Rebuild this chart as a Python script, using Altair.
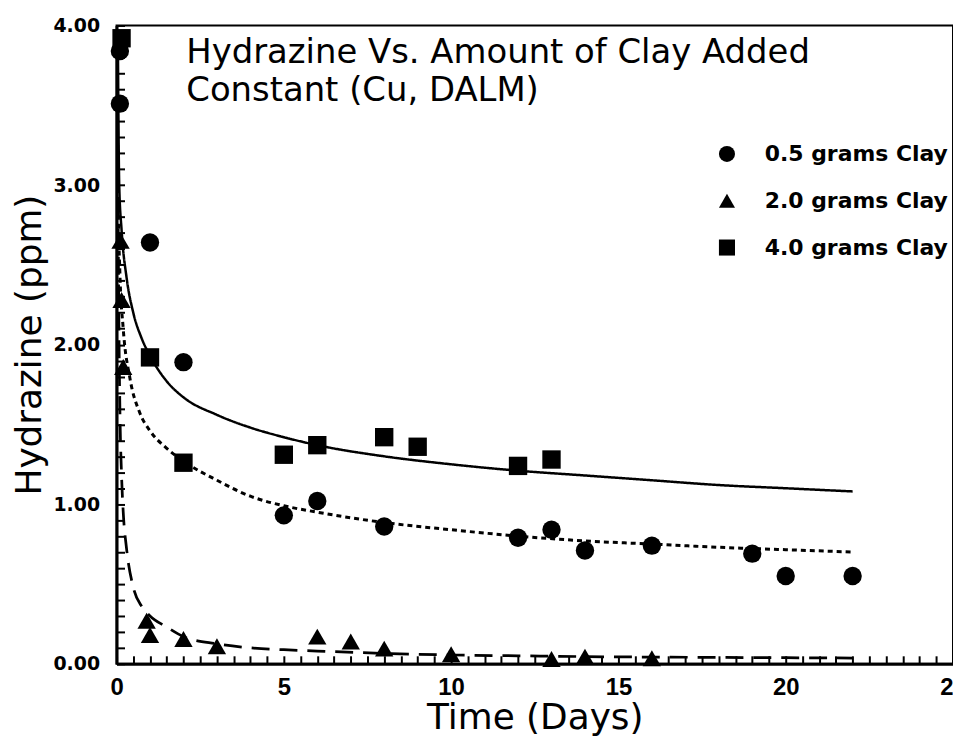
import altair as alt
import pandas as pd

# ---------------- data ----------------
SERIES = ["0.5 grams Clay", "2.0 grams Clay", "4.0 grams Clay"]
SHAPES = ["circle", "triangle-up", "square"]

# measured points
T_05 = [0.1, 0.1, 1, 2, 5, 6, 8, 12, 13, 14, 16, 19, 20, 22]
Y_05 = [3.84, 3.51, 2.64, 1.89, 0.93, 1.02, 0.86, 0.79, 0.84, 0.71, 0.74, 0.69, 0.55, 0.55]

T_20 = [0.12, 0.15, 0.2, 0.9, 1, 2, 3, 6, 7, 8, 10, 13, 14, 16]
Y_20 = [2.65, 2.28, 1.86, 0.27, 0.18, 0.155, 0.11, 0.17, 0.14, 0.095, 0.06, 0.03, 0.045, 0.035]

T_40 = [0.15, 1, 2, 5, 6, 8, 9, 12, 13]
Y_40 = [3.92, 1.92, 1.26, 1.31, 1.37, 1.42, 1.36, 1.24, 1.28]

# fitted curves
FIT_05_T = [0.02, 0.04, 0.1, 0.2, 0.4, 0.7, 1, 1.5, 2, 3, 4, 5, 6, 8, 10, 12, 14, 16, 18, 20, 22]
FIT_05_Y = [3.6, 3.0, 2.45, 2.10, 1.79, 1.57, 1.46, 1.35, 1.27, 1.15, 1.05, 0.99, 0.95, 0.885, 0.84, 0.80, 0.77, 0.75, 0.73, 0.715, 0.70]

FIT_20_T = [0.03, 0.06, 0.1, 0.15, 0.2, 0.3, 0.5, 0.75, 1, 1.5, 2, 3, 4, 5, 6, 8, 10, 12, 14, 16, 18, 20, 22]
FIT_20_Y = [3.6, 2.4, 1.6, 1.18, 0.95, 0.72, 0.48, 0.36, 0.30, 0.23, 0.17, 0.125, 0.10, 0.088, 0.08, 0.065, 0.055, 0.05, 0.045, 0.042, 0.04, 0.038, 0.036]

FIT_40_T = [0.04, 0.08, 0.15, 0.3, 0.5, 0.75, 1, 1.5, 2, 3, 4, 5, 6, 8, 10, 12, 14, 16, 18, 20, 22]
FIT_40_Y = [3.9, 3.0, 2.72, 2.42, 2.2, 2.04, 1.93, 1.77, 1.67, 1.56, 1.48, 1.42, 1.37, 1.30, 1.25, 1.21, 1.18, 1.15, 1.12, 1.10, 1.08]

TITLE_LINES = ["Hydrazine Vs. Amount of Clay Added", "Constant (Cu, DALM)"]
X_TITLE = "Time (Days)"
Y_TITLE = "Hydrazine (ppm)"
X_LABEL_VALUES = [0, 5, 10, 15, 20, 25]
Y_LABEL_VALUES = [0, 1, 2, 3, 4]
X_MINOR_TICKS = [i * 0.5 for i in range(51)]
Y_MINOR_TICKS = [round(i * 0.1, 1) for i in range(41)]

# ---------------- tables ----------------
pts_rows = []
for s, ts, ys in [(SERIES[0], T_05, Y_05), (SERIES[1], T_20, Y_20), (SERIES[2], T_40, Y_40)]:
    for t, y in zip(ts, ys):
        pts_rows.append({"series": s, "t": t, "y": y})
pts = pd.DataFrame(pts_rows)

fit_rows = []
for s, ts, ys in [(SERIES[0], FIT_05_T, FIT_05_Y), (SERIES[1], FIT_20_T, FIT_20_Y), (SERIES[2], FIT_40_T, FIT_40_Y)]:
    for t, y in zip(ts, ys):
        fit_rows.append({"curve": s, "t": t, "y": y})
fits = pd.DataFrame(fit_rows)

x_scale = alt.Scale(domain=[0, 25], nice=False, zero=False)
y_scale = alt.Scale(domain=[0, 4], nice=False)

# tick-only axes (drawn inward by negative offset)
tick_x_axis = alt.Axis(orient="bottom", offset=-8, values=X_MINOR_TICKS, domain=False, labels=False,
                       ticks=True, tickSize=8, tickWidth=2, tickColor="black", grid=False, title=None)
tick_y_axis = alt.Axis(orient="left", offset=-8, values=Y_MINOR_TICKS, domain=False, labels=False,
                       ticks=True, tickSize=8, tickWidth=2, tickColor="black", grid=False, title=None)

label_x_axis = alt.Axis(orient="bottom", values=X_LABEL_VALUES, format="d", ticks=False, tickSize=0,
                        domain=True, domainColor="black", domainWidth=3, grid=False,
                        labelFont="Liberation Sans", labelFontWeight="bold", labelFontSize=24,
                        labelColor="black", labelPadding=12, labelFlush=False, labelOverlap=False,
                        title=X_TITLE, titleFont="DejaVu Sans", titleFontSize=36, titleFontWeight="normal",
                        titleColor="black", titleY=65, titleBaseline="alphabetic")
label_y_axis = alt.Axis(orient="left", values=Y_LABEL_VALUES, format=".2f", ticks=False, tickSize=0,
                        domain=True, domainColor="black", domainWidth=3, grid=False,
                        labelFont="DejaVu Sans", labelFontWeight="bold", labelFontSize=19,
                        labelColor="black", labelPadding=17, labelFlush=False, labelOverlap=False,
                        title=Y_TITLE, titleFont="DejaVu Sans", titleFontSize=36, titleFontWeight="normal",
                        titleColor="black", titleAngle=270, titleX=-76, titleY=320.5,
                        titleAlign="center", titleBaseline="alphabetic")

lines = alt.Chart(fits).mark_line(color="black", interpolate="monotone", clip=True).encode(
    x=alt.X("t:Q", scale=x_scale, axis=tick_x_axis),
    y=alt.Y("y:Q", scale=y_scale, axis=tick_y_axis),
    strokeDash=alt.StrokeDash("curve:N", scale=alt.Scale(domain=SERIES, range=[[5, 4], [18, 10], [1, 0]]), legend=None),
    strokeWidth=alt.StrokeWidth("curve:N", scale=alt.Scale(domain=SERIES, range=[3, 2.5, 2]), legend=None),
    detail="curve:N",
)

points = alt.Chart(pts).mark_point(filled=True, fill="black", color="black", opacity=1,
                                   strokeWidth=0, size=340).encode(
    x=alt.X("t:Q", scale=x_scale, axis=label_x_axis),
    y=alt.Y("y:Q", scale=y_scale, axis=label_y_axis),
    shape=alt.Shape("series:N", scale=alt.Scale(domain=SERIES, range=SHAPES),
                    legend=alt.Legend(title=None, orient="none", legendX=602, legendY=118)),
)

title = alt.Chart(pd.DataFrame({"t": ["\n".join(TITLE_LINES)]})).mark_text(
    align="left", baseline="alphabetic", lineBreak="\n", lineHeight=38,
    font="DejaVu Sans", fontSize=34, color="black"
).encode(x=alt.value(70), y=alt.value(38), text="t:N")

chart = alt.layer(lines, points, title).resolve_axis(x="independent", y="independent").resolve_legend(
    shape="independent", strokeDash="independent", strokeWidth="independent"
).properties(
    width=840, height=641,
    padding={"left": 109, "top": 16, "right": 0, "bottom": 76},
    autosize=alt.AutoSizeParams(type="none"),
).configure_view(stroke="black", strokeWidth=2).configure_legend(
    labelFont="DejaVu Sans", labelFontWeight="bold", labelFontSize=22, labelColor="black",
    labelLimit=400,
    symbolSize=260, symbolFillColor="black", symbolStrokeColor="black", symbolStrokeWidth=0,
    rowPadding=25, labelOffset=27, padding=0,
)

chart.save("out.html", embed_options={"renderer": "svg", "actions": False})
